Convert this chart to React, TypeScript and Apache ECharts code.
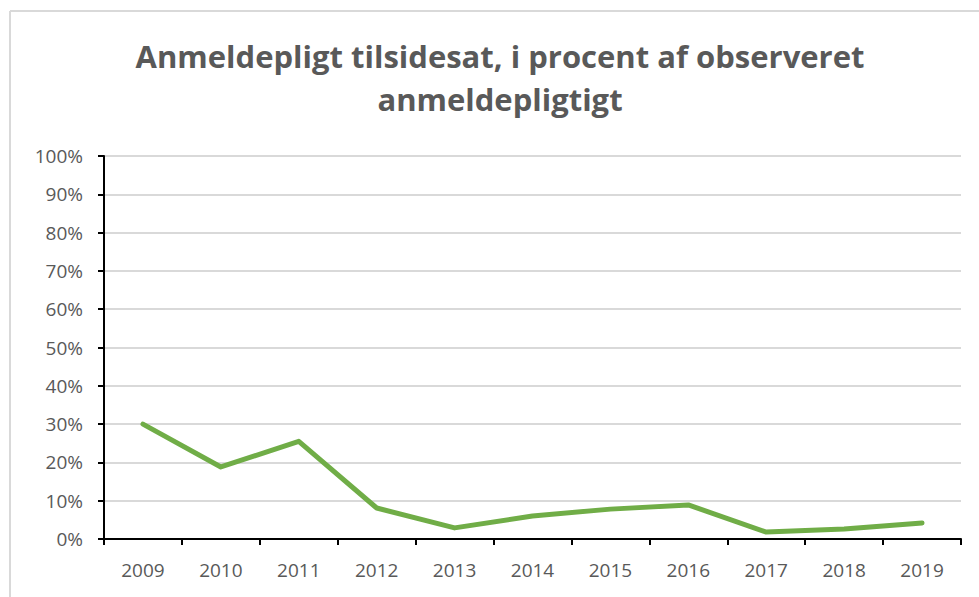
import React, { useEffect, useRef } from "react";
import * as echarts from "echarts";

const years = ["2009", "2010", "2011", "2012", "2013", "2014", "2015", "2016", "2017", "2018", "2019"];
const values = [30.0, 18.8, 25.5, 8.1, 2.9, 6.0, 7.8, 8.9, 1.8, 2.6, 4.2];
const titleText = "Anmeldepligt tilsidesat, i procent af observeret\nanmeldepligtigt";

export default function App() {
  const ref = useRef<HTMLDivElement>(null);
  useEffect(() => {
    const chart = echarts.init(ref.current!, null, { renderer: "svg" });
    chart.setOption({
      animation: false,
      backgroundColor: "#ffffff",
      graphic: [
        { type: "line", shape: { x1: 10, y1: 11, x2: 979, y2: 11 }, style: { stroke: "#d9d9d9", lineWidth: 2 } },
        { type: "line", shape: { x1: 10, y1: 11, x2: 10, y2: 597 }, style: { stroke: "#d9d9d9", lineWidth: 2 } },
        {
          type: "text",
          x: 500,
          y: 34,
          style: {
            text: titleText,
            align: "center",
            verticalAlign: "top",
            fontFamily: "Open Sans",
            fontWeight: "bold",
            fontSize: 31,
            lineHeight: 43,
            fill: "#595959",
          },
        },
      ],
      grid: { left: 104, right: 18, top: 156, bottom: 58 },
      xAxis: {
        type: "category",
        data: years,
        boundaryGap: true,
        axisLine: { lineStyle: { color: "#000", width: 2 } },
        axisTick: { show: true, length: 6, lineStyle: { color: "#000", width: 2 } },
        axisLabel: { color: "#595959", fontSize: 19, fontFamily: "Open Sans", margin: 21 },
      },
      yAxis: {
        type: "value",
        min: 0,
        max: 100,
        interval: 10,
        axisLine: { show: true, lineStyle: { color: "#000", width: 2 } },
        axisTick: { show: true, length: 6, lineStyle: { color: "#000", width: 2 } },
        axisLabel: { color: "#595959", fontSize: 19, fontFamily: "Open Sans", margin: 21, formatter: "{value}%" },
        splitLine: { lineStyle: { color: "#d9d9d9", width: 2 } },
      },
      series: [
        {
          type: "line",
          data: values,
          symbol: "none",
          lineStyle: { color: "#70ad47", width: 5, cap: "round", join: "round" },
        },
      ],
    });
    return () => chart.dispose();
  }, []);
  return <div ref={ref} style={{ width: 979, height: 597, position: "absolute", left: 0, top: 0 }} />;
}
